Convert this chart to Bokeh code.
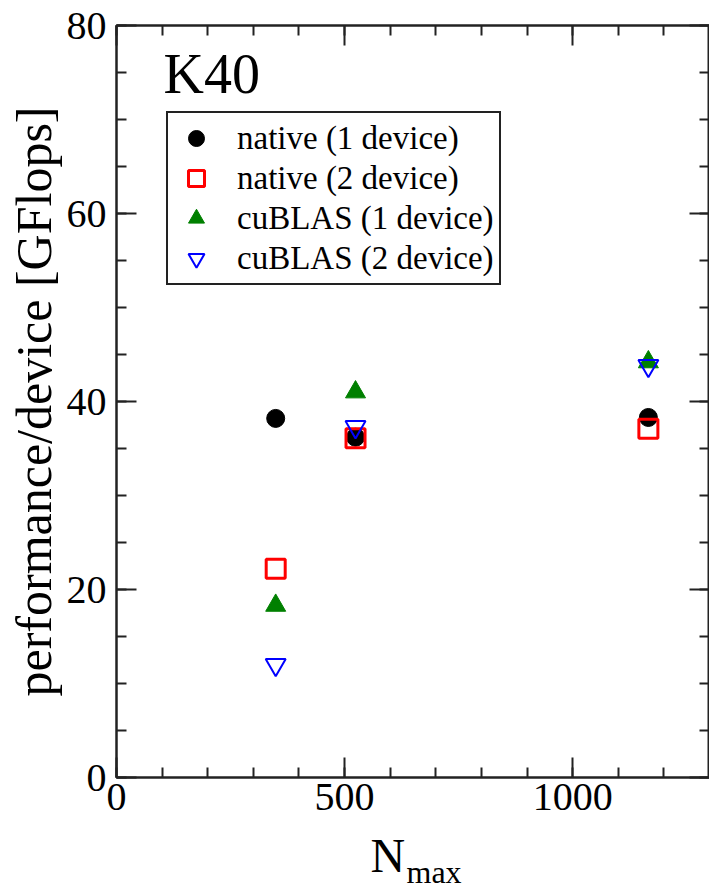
from bokeh.plotting import figure
from bokeh.layouts import column
from bokeh.models import (LinearAxis, SingleIntervalTicker, Range1d, Legend, LegendItem,
                          Label, CustomJSTickFormatter, ColumnDataSource)
from bokeh.embed import file_html
from bokeh.resources import INLINE

# ---- data ----
n_max = [349, 524, 1166]
native_1dev = [38.2, 36.2, 38.3]
native_2dev = [22.2, 36.1, 37.1]
cublas_1dev = [18.3, 41.0, 44.2]
cublas_2dev = [12.0, 37.3, 43.8]
series_names = ["native (1 device)", "native (2 device)", "cuBLAS (1 device)", "cuBLAS (2 device)"]
title_text = "K40"
y_title = "performance/device [GFlops]"
x_title_main = "N"
x_title_sub = "max"

FONT = "Liberation Serif"
AX = "#222222"

p = figure(width=709, height=828, output_backend="svg", toolbar_location=None,
           x_range=Range1d(0, 1300), y_range=Range1d(0, 80),
           x_axis_type=None, y_axis_type=None,
           min_border_left=116, min_border_right=0, min_border_top=25, min_border_bottom=51)
p.background_fill_color = "white"
p.border_fill_color = "white"
p.outline_line_color = AX
p.outline_line_width = 2
p.xgrid.visible = False
p.ygrid.visible = False


def style_axis(ax, show_labels=True):
    ax.axis_line_color = AX
    ax.axis_line_width = 2
    ax.major_tick_line_color = AX
    ax.major_tick_line_width = 2
    ax.minor_tick_line_color = AX
    ax.minor_tick_line_width = 2
    ax.major_tick_in = 20
    ax.major_tick_out = 0
    ax.minor_tick_in = 10
    ax.minor_tick_out = 0
    ax.major_label_text_font = FONT
    ax.major_label_text_color = "black"
    if show_labels:
        ax.major_label_text_font_size = "40px"
    else:
        ax.formatter = CustomJSTickFormatter(code="return ''")
        ax.major_label_text_font_size = "0px"
        ax.major_label_standoff = 0


xb = LinearAxis(ticker=SingleIntervalTicker(interval=500, num_minor_ticks=5))
style_axis(xb)
xb.major_label_standoff = 6
p.add_layout(xb, "below")

xt = LinearAxis(ticker=SingleIntervalTicker(interval=500, num_minor_ticks=5))
style_axis(xt, show_labels=False)
p.add_layout(xt, "above")

yl = LinearAxis(ticker=SingleIntervalTicker(interval=20, num_minor_ticks=4))
style_axis(yl)
yl.major_label_standoff = 10
yl.axis_label = y_title
yl.axis_label_text_font = FONT
yl.axis_label_text_font_size = "50px"
yl.axis_label_text_font_style = "normal"
yl.axis_label_text_color = "black"
yl.axis_label_standoff = 2
p.add_layout(yl, "left")

yr = LinearAxis(ticker=SingleIntervalTicker(interval=20, num_minor_ticks=4))
style_axis(yr, show_labels=False)
p.add_layout(yr, "right")

src = ColumnDataSource(dict(x=n_max, n1=native_1dev, n2=native_2dev, c1=cublas_1dev, c2=cublas_2dev))

r1 = p.scatter("x", "n1", source=src, marker="circle", size=18,
               fill_color="black", line_color="black")
r2 = p.scatter("x", "n2", source=src, marker="square", size=19,
               fill_color=None, line_color="red", line_width=3)
r3 = p.scatter("x", "c1", source=src, marker="triangle", size=20,
               fill_color="green", line_color="green")
r4 = p.scatter("x", "c2", source=src, marker="inverted_triangle", size=20,
               fill_color=None, line_color="blue", line_width=2)

legend = Legend(items=[LegendItem(label=series_names[0], renderers=[r1]),
                       LegendItem(label=series_names[1], renderers=[r2]),
                       LegendItem(label=series_names[2], renderers=[r3]),
                       LegendItem(label=series_names[3], renderers=[r4])],
                location=(50, 492))
legend.label_text_font = FONT
legend.label_text_font_size = "33px"
legend.label_text_color = "black"
legend.label_height = 40
legend.glyph_height = 40
legend.glyph_width = 46
legend.label_standoff = 18
legend.spacing = 0
legend.padding = 5
legend.margin = 0
legend.border_line_color = AX
legend.border_line_alpha = 1.0
legend.border_line_width = 2
legend.background_fill_color = "white"
legend.background_fill_alpha = 1
p.add_layout(legend, "center")

p.add_layout(Label(x=47, y=735, x_units="screen", y_units="screen", text=title_text,
                   text_font=FONT, text_font_size="56px", text_color="black",
                   text_baseline="top", text_align="left"))

# axis title N_max drawn in a strip below the plot (frame aligned with the plot above)
p2 = figure(width=709, height=60, output_backend="svg", toolbar_location=None,
            x_range=Range1d(0, 1), y_range=Range1d(0, 1),
            x_axis_type=None, y_axis_type=None, min_border=0)
p2.outline_line_color = None
p2.background_fill_color = "white"
p2.border_fill_color = "white"
p2.xgrid.visible = False
p2.ygrid.visible = False
p2.add_layout(Label(x=254, y=60, x_units="screen", y_units="screen", text=x_title_main,
                    text_font=FONT, text_font_size="48px", text_color="black",
                    text_baseline="top", text_align="left"))
p2.add_layout(Label(x=290, y=35, x_units="screen", y_units="screen", text=x_title_sub,
                    text_font=FONT, text_font_size="32px", text_color="black",
                    text_baseline="top", text_align="left"))

layout = column(p, p2, spacing=0)
open("out.html", "w").write(file_html(layout, INLINE))
